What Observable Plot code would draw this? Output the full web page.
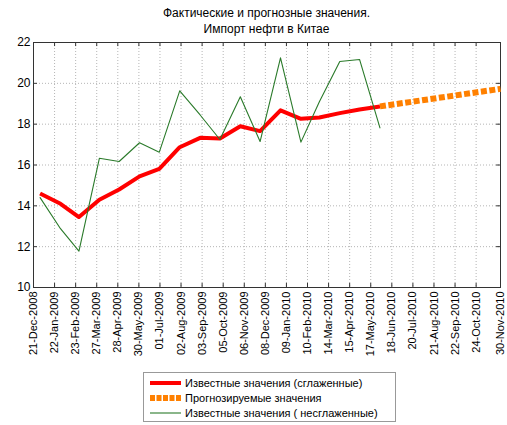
<!DOCTYPE html>
<html><head><meta charset="utf-8">
<script src="https://cdn.jsdelivr.net/npm/d3@7"></script>
<script src="https://cdn.jsdelivr.net/npm/@observablehq/plot@0.6"></script>
<style>
body{margin:0;background:#fff;font-family:"Liberation Sans",Arial,sans-serif;}
#wrap{width:507px;height:425px;position:relative;overflow:hidden;background:#fff;}
#title{margin-left:33px;width:467px;height:36px;text-align:center;font-size:12px;line-height:16px;padding-top:5px;box-sizing:border-box;color:#000;}
#chart svg{display:block;}
#legend{position:absolute;left:143px;top:372px;width:253px;height:50px;box-sizing:border-box;border:1px solid #999;background:#fff;padding-top:2px;}
.row{display:flex;align-items:center;height:15px;font-size:11px;color:#000;white-space:nowrap;}
.row svg{margin-left:6px;margin-right:4px;flex:none;}
</style>
</head><body>
<div id="wrap">
  <div id="title">Фактические и прогнозные значения.<br>Импорт нефти в Китае</div>
  <div id="chart"></div>
  <div id="legend"></div>
</div>
<script>
// ---- data ----
const monthDates = ["2008-12-31","2009-01-31","2009-02-28","2009-03-31","2009-04-30","2009-05-31",
  "2009-06-30","2009-07-31","2009-08-31","2009-09-30","2009-10-31","2009-11-30",
  "2009-12-31","2010-01-31","2010-02-28","2010-03-31","2010-04-30","2010-05-31"];
const smoothValues = [14.6,14.1,13.45,14.3,14.8,15.44,15.81,16.87,17.33,17.3,17.9,17.66,18.68,18.26,18.33,18.54,18.72,18.87];
const rawValues = [14.4,12.88,11.78,16.33,16.17,17.09,16.63,19.63,18.45,17.25,19.34,17.15,21.25,17.12,19.1,21.07,21.17,17.82];
const forecastDates = ["2010-05-31","2010-11-30"];
const forecastValues = [18.87,19.73];
const tickLabels = ["21-Dec-2008","22-Jan-2009","23-Feb-2009","27-Mar-2009","28-Apr-2009","30-May-2009",
  "01-Jul-2009","02-Aug-2009","03-Sep-2009","05-Oct-2009","06-Nov-2009","08-Dec-2009",
  "09-Jan-2010","10-Feb-2010","14-Mar-2010","15-Apr-2010","17-May-2010","18-Jun-2010",
  "20-Jul-2010","21-Aug-2010","22-Sep-2010","24-Oct-2010","30-Nov-2010"];
const yTicks = [10,12,14,16,18,20,22];
const seriesNames = ["Известные значения (сглаженные)","Прогнозируемые значения","Известные значения ( несглаженные)"];
const colors = {smooth:"#ff0000", forecast:"#ff8000", raw:"#2a7a2a"};

// ---- build ----
const parseTick = d3.utcParse("%d-%b-%Y");
const fmtTick = d3.utcFormat("%d-%b-%Y");
const tickDates = tickLabels.map(parseTick);
const parseIso = d3.utcParse("%Y-%m-%d");
const smooth = monthDates.map((d,i)=>({date:parseIso(d), value:smoothValues[i]}));
const raw = monthDates.map((d,i)=>({date:parseIso(d), value:rawValues[i]}));
const forecast = forecastDates.map((d,i)=>({date:parseIso(d), value:forecastValues[i]}));
const x0 = tickDates[0], x1 = tickDates[tickDates.length-1];
const innerTicksX = tickDates.slice(1, -1);
const tickLenDays = 6;

const chart = Plot.plot({
  width: 507, height: 332,
  marginTop: 6, marginBottom: 81, marginLeft: 33, marginRight: 7,
  style: {fontFamily: '"Liberation Sans", Arial, sans-serif', background: "#fff", color: "#000"},
  x: {type: "utc", domain: [x0, x1]},
  y: {domain: [10, 22]},
  marks: [
    Plot.ruleX(innerTicksX, {x: d=>d, stroke: "#b5b5b5", strokeDasharray: "1,2"}),
    Plot.ruleY(yTicks.slice(1,-1), {y: d=>d, stroke: "#b5b5b5", strokeDasharray: "1,2"}),
    Plot.ruleX(tickDates, {x: d=>d, y1: 22, y2: 21.8, stroke: "#333"}),
    Plot.ruleX(tickDates, {x: d=>d, y1: 10, y2: 10.2, stroke: "#333"}),
    Plot.ruleY(yTicks, {y: d=>d, x1: x0, x2: d3.utcDay.offset(x0, tickLenDays), stroke: "#333"}),
    Plot.ruleY(yTicks, {y: d=>d, x1: d3.utcDay.offset(x1, -tickLenDays), x2: x1, stroke: "#333"}),
    Plot.frame({stroke: "#333"}),
    Plot.axisX({ticks: tickDates, tickFormat: fmtTick, tickRotate: -90, tickSize: 0, tickPadding: 4, fontSize: 11, label: null}),
    Plot.axisY({ticks: yTicks, tickSize: 0, tickPadding: 3, fontSize: 12, label: null}),
    Plot.line(smooth, {x: "date", y: "value", stroke: colors.smooth, strokeWidth: 4, strokeLinejoin: "round", strokeLinecap: "butt"}),
    Plot.line(forecast, {x: "date", y: "value", stroke: colors.forecast, strokeWidth: 6, strokeDasharray: "6,2.5", strokeLinecap: "butt"}),
    Plot.line(raw, {x: "date", y: "value", stroke: colors.raw, strokeWidth: 1.1})
  ]
});
document.getElementById("chart").appendChild(chart);

// ---- legend ----
const legendSpec = [
  {name: seriesNames[0], color: colors.smooth, width: 4, dash: null},
  {name: seriesNames[1], color: colors.forecast, width: 6, dash: "5,1.5"},
  {name: seriesNames[2], color: colors.raw, width: 1.1, dash: null}
];
const leg = document.getElementById("legend");
legendSpec.forEach(s => {
  const row = document.createElement("div");
  row.className = "row";
  const dash = s.dash ? ` stroke-dasharray="${s.dash}"` : "";
  row.innerHTML = `<svg width="31" height="10"><line x1="0" x2="31" y1="5" y2="5" stroke="${s.color}" stroke-width="${s.width}"${dash}/></svg><span>${s.name}</span>`;
  leg.appendChild(row);
});
</script>
</body></html>
